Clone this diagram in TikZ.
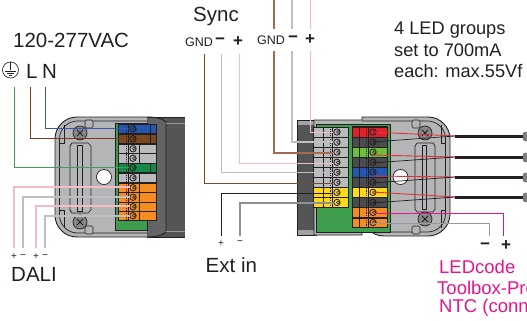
\documentclass[tikz,border=0pt]{standalone}
\usepackage{fontspec}
\setmainfont{Liberation Sans}
\definecolor{txt}{HTML}{231F20}
\definecolor{shell}{HTML}{B4B5B7}
\definecolor{darkend}{HTML}{545557}
\definecolor{midend}{HTML}{636466}
\definecolor{board}{HTML}{3F9E4D}
\definecolor{grayterm}{HTML}{B9BBBD}
\definecolor{blueterm}{HTML}{2458B0}
\definecolor{brownterm}{HTML}{7A4A1E}
\definecolor{greenterm}{HTML}{158A4A}
\definecolor{orangeterm}{HTML}{F58E20}
\definecolor{yellowterm}{HTML}{FFD91A}
\definecolor{redterm}{HTML}{E3202A}
\definecolor{limeterm}{HTML}{6CBE3C}
\definecolor{coalterm}{HTML}{4A4B4D}
\definecolor{wblue}{HTML}{3F55A5}
\definecolor{wbrown}{HTML}{7B3A1E}
\definecolor{wgreen}{HTML}{3C9E58}
\definecolor{wpink}{HTML}{F6BCC4}
\definecolor{wgray}{HTML}{BEBFC1}
\definecolor{wtan}{HTML}{A36B4F}
\definecolor{wred}{HTML}{E5303A}
\definecolor{magent}{HTML}{E5148A}
\usetikzlibrary{calc}
\newcommand{\termrow}[6]{
  \fill [#5] (#1, #2) rectangle +(#3, 9.5);
  \draw [line width=0.6pt, txt] (#1, #2) rectangle +(#3, 9.5);
  \draw [line width=0.9pt, txt] (#1+#4-5, #2) -- +(0, 9.5);
  \draw [line width=0.9pt, txt, densely dotted] (#1+#4-7, #2) -- +(0, 9.5);
  \draw [line width=0.8pt, txt] (#1+#6, #2) -- +(0, 9.5);
  \draw [line width=0.8pt, txt] (#1+#4, #2+4.75) circle (3.2);
  \draw [line width=0.5pt, txt] (#1+#4+1, #2+4.75) circle (1.5);
}
\newcommand{\screwhead}[3]{
  \node [screwnode] (#1) at (#2, #3) {};
  \draw [line width=1pt, txt] ($(#1)+(-3.2,-3.2)$) -- ($(#1)+(3.2,3.2)$);
  \draw [line width=1pt, txt] ($(#1)+(3.2,-3.2)$) -- ($(#1)+(-3.2,3.2)$);
}
\tikzset{
  lab/.style={inner sep=0pt, text=txt, font=\fontsize{20.5}{24}\selectfont},
  mid/.style={inner sep=0pt, text=txt, font=\fontsize{18.2}{21}\selectfont},
  gnd/.style={inner sep=0pt, text=txt, font=\fontsize{12.5}{14}\selectfont},
  sgn/.style={inner sep=0pt, text=txt, font=\fontsize{17}{18}\selectfont\bfseries},
  tiny/.style={inner sep=0pt, text=txt, font=\fontsize{10}{11}\selectfont},
  pinktext/.style={inner sep=0pt, anchor=west, text=magent, font=\fontsize{18.5}{21}\selectfont},
  screwnode/.style={circle, draw=txt, fill=shell!75!black, line width=0.7pt, minimum size=14pt, inner sep=0pt},
  holenode/.style={circle, draw=txt, fill=white, line width=0.7pt, minimum size=15pt, inner sep=0pt},
  shellline/.style={draw=txt, fill=shell, line width=0.9pt},
  thin line/.style={draw=txt, line width=0.7pt},
  tab/.style={draw=txt, fill=shell, line width=0.6pt, rounded corners=1.5pt},
  led/.style={draw=txt, line width=3pt},
  ledcap/.style={fill=shell!70!black, draw=darkend, line width=0.4pt, rounded corners=2.5pt},
}
\begin{document}
\begin{tikzpicture}[x=1pt, y=-1pt]
  \useasboundingbox (0, 0) rectangle (527, 321);
  \clip (0, 0) rectangle (527, 321);
  % left box
  \fill [darkend] (147, 117) rectangle (185, 237);
  \draw [shellline, fill=midend] (147, 117) .. controls (155, 117) and (162, 118) .. (166, 122) -- (166, 232) .. controls (162, 236) and (155, 237) .. (147, 237) -- cycle;
  \draw [thin line] (147, 117) -- (185, 117) (147, 237) -- (185, 237);
  \draw [thin line, darkend!60!white] (166, 123) -- (185, 123) (166, 231) -- (185, 231);
  \draw [shellline, rounded corners=22pt] (147, 117) -- (55, 117) -- (55, 237) -- (147, 237);
  \draw [thin line, rounded corners=18pt] (147, 121) -- (59.5, 121) -- (59.5, 233) -- (147, 233);
  \draw [thin line] (60, 143) -- (64, 143) -- (64, 125) (60, 210) -- (64, 210) -- (64, 228);
  \draw [tab] (85, 120) rectangle (93, 128);
  \draw [tab] (85, 226) rectangle (93, 234);
  \draw [thin line] (70, 146) -- (72, 143) -- (88, 143) -- (91, 146) -- (91, 210) -- (88, 213) -- (72, 213) -- (70, 210) -- cycle;
  \draw [thin line] (77, 145) rectangle (82, 211);
  \screwhead{screwA}{80}{133}
  \screwhead{screwB}{80}{222}
  \node [holenode] (holeL) at (104, 177) {};
  \fill [board] (115, 123) rectangle (147, 230);
  \draw [thin line] (115, 123) rectangle (147, 230);
  \termrow{118}{124}{38}{15}{blueterm}{32}
  \termrow{118}{134}{38}{15}{brownterm}{32}
  \termrow{118}{144}{38}{15}{grayterm}{21}
  \termrow{118}{153.5}{38}{15}{grayterm}{21}
  \termrow{118}{163}{38}{15}{greenterm}{32}
  \termrow{118}{173}{38}{15}{grayterm}{21}
  \termrow{118}{183}{38}{15}{orangeterm}{21}
  \termrow{118}{192.5}{38}{15}{orangeterm}{21}
  \termrow{118}{202}{38}{15}{orangeterm}{21}
  \termrow{118}{211}{38}{15}{orangeterm}{21}
  % right box
  \fill [darkend] (297, 120) rectangle (314, 235);
  \fill [midend!60!white] (297, 120) rectangle (316, 125);
  \fill [midend!60!white] (297, 230) rectangle (316, 235);
  \draw [thin line] (297, 120) rectangle (316, 235);
  \draw [shellline] (314, 120) -- (362, 120) -- (362, 117) [rounded corners=22pt] -- (450, 117) -- (450, 236) -- (362, 236) [sharp corners] -- (362, 235) -- (314, 235) -- cycle;
  \draw [thin line, rounded corners=18pt] (362, 121) -- (445.5, 121) -- (445.5, 232) -- (362, 232);
  \draw [thin line] (445, 143) -- (441, 143) -- (441, 125) (445, 210) -- (441, 210) -- (441, 228);
  \draw [tab] (412, 120) rectangle (420, 128);
  \draw [tab] (412, 226) rectangle (420, 234);
  \draw [thin line] (415, 146) -- (417, 143) -- (433, 143) -- (435, 146) -- (435, 209) -- (433, 212) -- (417, 212) -- (415, 209) -- cycle;
  \draw [thin line] (422, 145) rectangle (426, 209);
  \screwhead{screwC}{425}{133}
  \screwhead{screwD}{425}{219}
  \node [holenode] (holeR) at (400.5, 177) {};
  \fill [board] (316, 124) rectangle (390, 232);
  \draw [thin line] (316, 124) rectangle (390, 232);
  \fill [txt] (352, 126) rectangle (388, 228);
  \termrow{313}{127.3}{35}{24}{grayterm}{10}
  \termrow{313}{137.4}{35}{24}{grayterm}{10}
  \termrow{313}{147.4}{35}{24}{grayterm}{10}
  \termrow{313}{157.5}{35}{24}{grayterm}{10}
  \termrow{313}{167.5}{35}{24}{grayterm}{10}
  \termrow{313}{177.6}{35}{24}{grayterm}{10}
  \termrow{313}{187.6}{35}{24}{yellowterm}{10}
  \termrow{313}{197.7}{35}{24}{yellowterm}{10}
  \termrow{352}{127.3}{35}{21}{redterm}{7}
  \termrow{352}{137.4}{35}{21}{coalterm}{7}
  \termrow{352}{147.4}{35}{21}{limeterm}{7}
  \termrow{352}{157.5}{35}{21}{coalterm}{7}
  \termrow{352}{167.5}{35}{21}{blueterm}{7}
  \termrow{352}{177.6}{35}{21}{coalterm}{7}
  \termrow{352}{187.6}{35}{21}{yellowterm}{7}
  \termrow{352}{197.7}{35}{21}{coalterm}{7}
  \termrow{352}{207.7}{35}{21}{orangeterm}{7}
  \termrow{352}{217.8}{35}{21}{orangeterm}{7}
  % wire ends
  \coordinate (pe) at (14, 87);
  \coordinate (ll) at (30, 87);
  \coordinate (nn) at (45, 87);
  \coordinate (peT) at (129, 167.5);
  \coordinate (llT) at (129, 138);
  \coordinate (nnT) at (129, 128.5);
  \coordinate (dpA) at (14, 248);
  \coordinate (dmA) at (23, 248);
  \coordinate (dpB) at (36, 248);
  \coordinate (dmB) at (45, 248);
  \coordinate (dpAT) at (130, 187);
  \coordinate (dmAT) at (130, 197);
  \coordinate (dpBT) at (130, 206);
  \coordinate (dmBT) at (130, 216);
  \coordinate (gndA) at (204, 54);
  \coordinate (minA) at (221, 54);
  \coordinate (plsA) at (239, 54);
  \coordinate (gndB) at (274, 0);
  \coordinate (minB) at (292, 0);
  \coordinate (plsB) at (310, 0);
  \coordinate (gndAT) at (333, 183);
  \coordinate (minAT) at (333, 172);
  \coordinate (plsAT) at (333, 163);
  \coordinate (gndBT) at (333, 153);
  \coordinate (minBT) at (333, 142);
  \coordinate (plsBT) at (333, 132);
  \coordinate (extP) at (221, 236);
  \coordinate (extM) at (240, 236);
  \coordinate (extPT) at (333, 193);
  \coordinate (extMT) at (333, 203);
  \coordinate (ledM) at (489, 236);
  \coordinate (ledP) at (503, 236);
  \coordinate (ledMT) at (373, 223);
  \coordinate (ledPT) at (373, 213);
  \coordinate (ledA) at (455, 136);
  \coordinate (ledB) at (455, 157);
  \coordinate (ledC) at (455, 177);
  \coordinate (ledD) at (455, 197);
  \coordinate (ledAe) at (524, 136);
  \coordinate (ledBe) at (524, 157);
  \coordinate (ledCe) at (524, 177);
  \coordinate (ledDe) at (524, 197);
  % wires
  \draw [wgreen, line width=1pt] (pe) |- (peT);
  \draw [wbrown, line width=1pt] (ll) |- (llT);
  \draw [wblue, line width=1pt] (nn) |- (nnT);
  \draw [wpink, line width=1.8pt] (dpA) |- (dpAT);
  \draw [wgray, line width=1.8pt] (dmA) |- (dmAT);
  \draw [wpink, line width=1.8pt] (dpB) |- (dpBT);
  \draw [wgray, line width=1.8pt] (dmB) |- (dmBT);
  \draw [wtan!70!black, line width=0.9pt] (gndA) |- (gndAT);
  \draw [wgray, line width=1pt] (minA) |- (minAT);
  \draw [wpink, line width=1pt] (plsA) |- (plsAT);
  \draw [wtan, line width=1.5pt] (gndB) |- (gndBT);
  \draw [wgray, line width=1.4pt] (minB) |- (minBT);
  \draw [wpink, line width=0.8pt] (plsB) |- (plsBT);
  \draw [txt, line width=1pt] (extP) |- (extPT);
  \draw [wgray!75!black, line width=1.2pt] (extM) |- (extMT);
  \draw [magent, line width=0.9pt] (ledP) |- (ledPT);
  \draw [wgray!80!black, line width=0.9pt] (ledM) |- (ledMT);
  \draw [led] (ledA) -- (ledAe);
  \draw [led] (ledB) -- (ledBe);
  \draw [led] (ledC) -- (ledCe);
  \draw [led] (ledD) -- (ledDe);
  \draw [ledcap] (523, 132) rectangle (531, 141);
  \draw [ledcap] (523, 153) rectangle (531, 162);
  \draw [ledcap] (523, 173) rectangle (531, 182);
  \draw [ledcap] (523, 193) rectangle (531, 202);
  \draw [wred, line width=0.9pt] (372, 132) -- (ledA);
  \draw [wred, line width=0.9pt] (372, 155) -- (ledB);
  \draw [wred, line width=0.9pt] (372, 176) -- (ledC);
  \draw [wred, line width=0.9pt] (372, 192) -- (ledD);
  \draw [thin line] (372, 142) -- (ledA);
  \draw [thin line] (372, 163) -- (ledB);
  \draw [thin line] (372, 183) -- (ledC);
  \draw [thin line] (372, 203) -- (ledD);
  % labels
  \node [fill=white, inner sep=0pt, minimum width=72pt, minimum height=22pt] (syncB) at (290, 40) {};
  \node [lab, anchor=west] (mains) at (13, 40.5) {120-277VAC};
  \node [circle, draw=txt, line width=0.6pt, minimum size=16pt, inner sep=0pt] (earth) at (10.5, 70) {};
  \draw [txt, line width=0.6pt] (earth.north) -- (earth.center);
  \draw [txt, line width=0.6pt] (earth.center) ++(-5.5, 1) -- ++(11, 0);
  \draw [txt, line width=0.6pt] (earth.center) ++(-3.5, 3.2) -- ++(7, 0);
  \draw [txt, line width=0.6pt] (earth.center) ++(-1.8, 5.2) -- ++(3.6, 0);
  \node [lab, anchor=west] (lineL) at (26, 71) {L};
  \node [lab, anchor=west] (lineN) at (42, 71) {N};
  \node [tiny] (pA) at (14, 257) {+};
  \node [tiny] (mA) at (23, 257) {−};
  \node [tiny] (pB) at (36, 257) {+};
  \node [tiny] (mB) at (45, 257) {−};
  \node [lab, anchor=west] (dali) at (11, 274) {DALI};
  \node [lab, anchor=west] (sync) at (193, 16) {Sync};
  \node [gnd, anchor=west] (gA) at (185, 42) {GND};
  \node [sgn] (nA) at (220, 41.5) {−};
  \node [sgn] (oA) at (238, 41.5) {+};
  \node [gnd, anchor=west] (gB) at (257, 40) {GND};
  \node [sgn] (nB) at (293, 39.5) {−};
  \node [sgn] (oB) at (310, 39.5) {+};
  \node [tiny] (pE) at (221, 244) {+};
  \node [tiny] (mE) at (240, 243) {−};
  \node [lab, anchor=west] (ext) at (205.5, 265) {Ext in};
  \node [mid, anchor=west] (grpA) at (394, 30) {4 LED groups};
  \node [mid, anchor=west] (grpB) at (394, 50.5) {set to 700mA};
  \node [mid, anchor=west] (grpC) at (394, 71) {each: max.55Vf};
  \node [sgn] (nC) at (485, 246) {−};
  \node [sgn] (oC) at (506, 246) {+};
  \node [pinktext] (pkA) at (439, 267) {LEDcode};
  \node [pinktext] (pkB) at (437, 288) {Toolbox-Pro};
  \node [pinktext] (pkC) at (439, 308) {NTC (conn};
\end{tikzpicture}
\end{document}
